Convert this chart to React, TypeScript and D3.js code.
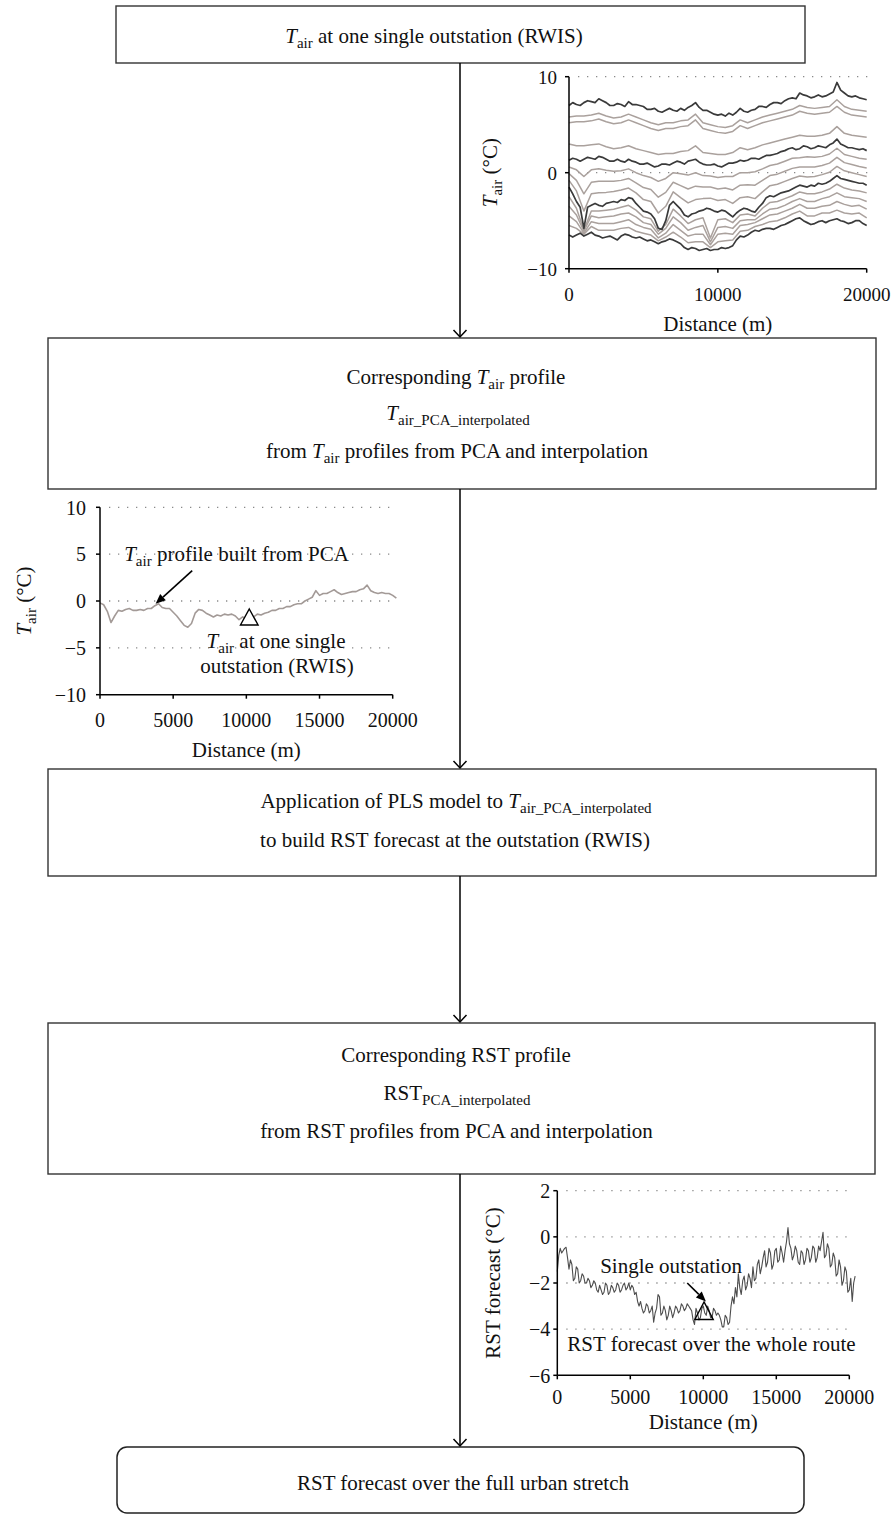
import React from "react";
import * as d3 from "d3";

const FONT = "'Liberation Serif','Times New Roman',serif";

// ---------- Top chart: T_air profiles (°C) over 0–20000 m ----------
const topDark1 = [7.0,7.3,7.1,7.0,7.3,7.5,7.4,7.3,7.7,7.5,7.3,7.0,7.0,7.2,7.1,6.9,7.4,7.1,7.1,7.0,6.9,6.6,6.6,6.7,6.4,6.3,6.5,6.7,6.5,6.4,6.7,6.5,6.8,7.0,7.3,6.8,6.5,6.5,6.3,6.1,6.0,6.1,5.9,6.2,6.0,6.3,6.7,6.4,6.3,6.5,6.6,6.9,6.9,6.8,7.1,7.3,7.3,7.2,7.5,7.7,7.8,7.7,8.3,8.1,8.0,7.8,7.9,8.1,7.9,8.0,8.2,8.4,9.4,8.6,8.3,8.0,7.9,8.0,7.8,7.7,7.6];
const topGray1 = [5.8,5.9,5.9,6.0,6.2,5.9,5.7,5.8,6.1,5.8,5.5,5.2,5.0,5.2,5.2,5.4,5.5,6.1,5.2,5.0,4.8,4.7,4.9,5.5,5.2,5.5,5.8,6.0,6.2,6.4,6.6,7.0,6.8,6.7,6.8,6.9,7.6,6.9,6.6,6.5,6.4];
const topGray2 = [5.2,5.3,5.3,5.4,5.6,5.3,5.1,5.2,5.5,5.2,4.9,4.6,4.4,4.6,4.6,4.8,4.9,5.5,4.6,4.4,4.2,4.1,4.3,4.9,4.6,4.9,5.2,5.4,5.6,5.8,6.0,6.4,6.2,6.1,6.2,6.3,6.9,6.3,6.0,5.9,5.8];
const topGray3 = [3.0,2.8,2.8,2.9,3.0,2.7,2.5,2.6,2.8,2.5,2.3,2.1,1.9,2.0,2.0,2.2,2.3,2.8,2.1,2.0,1.9,1.9,2.1,2.6,2.4,2.6,2.9,3.1,3.3,3.5,3.7,3.9,3.8,3.8,3.9,4.1,4.8,4.1,3.9,3.8,3.7];
const topDark2 = [1.3,1.5,1.4,1.2,1.4,1.6,1.5,1.4,1.7,1.6,1.4,1.2,1.2,1.4,1.2,1.1,1.4,1.2,1.1,0.9,0.9,1.0,0.8,0.6,0.7,0.9,0.9,0.8,1.0,1.2,1.1,0.9,1.2,1.3,1.4,1.1,0.9,0.8,0.8,0.9,0.7,0.6,0.8,1.0,1.0,1.1,1.3,1.2,1.3,1.5,1.5,1.4,1.6,1.8,1.8,1.9,2.0,2.2,2.3,2.5,2.6,2.4,2.5,2.8,2.7,2.5,2.6,2.8,2.7,2.6,2.9,3.1,3.5,3.0,2.8,2.6,2.6,2.5,2.4,2.5,2.3];
const topGray4 = [0.6,0.3,-0.4,0.3,0.4,0.25,0.15,0.2,0.4,0.0,-0.3,-0.5,-0.9,-0.6,0.0,-0.1,-0.25,0.0,-0.3,-0.35,-0.5,-0.4,-0.4,0.0,0.0,0.1,0.4,0.75,0.9,1.2,1.5,1.55,1.65,1.6,1.7,1.95,2.55,1.9,1.7,1.5,1.4];
const topGray5 = [-0.1,-0.8,-2.2,-1.0,-0.9,-0.9,-0.9,-0.8,-0.6,-1.05,-1.55,-1.75,-2.55,-2.05,-1.0,-1.35,-1.7,-1.4,-1.5,-1.5,-1.7,-1.6,-1.8,-1.3,-1.25,-1.3,-0.8,-0.3,-0.15,0.15,0.45,0.6,0.6,0.6,0.75,1.0,1.6,1.05,0.85,0.65,0.5];
const topGray6 = [-0.8,-1.9,-4.0,-2.2,-2.1,-2.05,-1.95,-1.8,-1.6,-2.1,-2.8,-3.0,-4.2,-3.5,-2.0,-2.6,-3.15,-2.8,-2.7,-2.65,-2.9,-2.8,-3.2,-2.6,-2.5,-2.7,-2.0,-1.35,-1.2,-0.9,-0.6,-0.35,-0.45,-0.4,-0.2,0.05,0.65,0.2,0.0,-0.2,-0.4];
const topDark3 = [-1.5,-2.2,-3.0,-3.6,-5.8,-3.6,-3.4,-3.2,-3.4,-3.5,-3.2,-3.1,-3.0,-3.1,-2.8,-2.9,-2.6,-2.7,-3.2,-3.6,-4.0,-4.1,-4.3,-4.8,-5.8,-5.9,-5.0,-3.4,-3.0,-3.4,-3.8,-4.4,-4.6,-4.3,-4.2,-4.0,-3.9,-3.7,-3.8,-4.0,-4.1,-3.9,-4.0,-4.3,-4.6,-4.2,-3.9,-3.7,-3.8,-4.0,-4.1,-3.6,-3.2,-2.6,-2.4,-2.5,-2.3,-2.1,-2.0,-1.9,-1.7,-1.5,-1.3,-1.4,-1.5,-1.3,-1.4,-1.1,-1.2,-1.1,-0.9,-0.6,-0.3,-0.6,-0.7,-0.8,-0.9,-1.0,-1.1,-1.1,-1.3];
const topGray7 = [-2.5,-3.7,-6.0,-4.0,-4.0,-3.9,-3.8,-3.6,-3.4,-3.9,-4.6,-4.8,-6.1,-5.4,-3.8,-4.5,-5.3,-4.9,-4.7,-6.8,-4.9,-4.8,-5.2,-4.4,-4.3,-4.5,-3.7,-3.1,-3.0,-2.7,-2.4,-2.0,-2.2,-2.2,-2.0,-1.7,-1.2,-1.6,-1.8,-1.9,-2.1];
const topGray8 = [-3.5,-4.4,-6.1,-4.5,-4.7,-4.6,-4.5,-4.3,-4.2,-4.6,-5.2,-5.4,-6.4,-5.8,-4.6,-5.2,-6.0,-5.7,-5.5,-7.2,-5.7,-5.6,-5.8,-5.0,-4.9,-4.9,-4.3,-3.8,-3.7,-3.4,-3.0,-2.7,-3.0,-3.0,-2.7,-2.5,-2.1,-2.5,-2.6,-2.7,-3.0];
const topGray9 = [-4.5,-5.1,-6.3,-5.1,-5.3,-5.3,-5.3,-5.1,-4.9,-5.4,-5.7,-5.9,-6.8,-6.3,-5.4,-6.0,-6.6,-6.4,-6.4,-7.5,-6.4,-6.3,-6.4,-5.5,-5.4,-5.2,-4.8,-4.4,-4.3,-4.0,-3.7,-3.3,-3.7,-3.7,-3.5,-3.4,-3.0,-3.3,-3.5,-3.4,-3.8];
const topGray10 = [-5.5,-5.8,-6.4,-5.6,-6.0,-6.0,-6.0,-5.8,-5.7,-6.1,-6.3,-6.5,-7.1,-6.7,-6.2,-6.7,-7.3,-7.2,-7.2,-7.8,-7.2,-7.1,-7.0,-6.1,-6.0,-5.6,-5.4,-5.1,-5.0,-4.7,-4.3,-4.0,-4.5,-4.5,-4.2,-4.2,-3.9,-4.2,-4.3,-4.2,-4.7];
const topDark4 = [-6.5,-6.7,-6.5,-6.3,-6.6,-6.4,-6.2,-6.5,-6.6,-6.8,-6.7,-6.6,-6.8,-7.0,-6.6,-6.4,-6.5,-6.7,-6.8,-6.7,-6.9,-7.1,-7.0,-7.2,-7.4,-7.2,-7.1,-6.9,-7.0,-7.2,-7.4,-7.8,-8.0,-7.8,-7.9,-8.1,-8.0,-7.9,-8.1,-8.0,-8.0,-7.8,-7.9,-7.8,-7.6,-7.0,-6.6,-6.7,-6.5,-6.2,-6.0,-6.1,-5.9,-5.8,-5.8,-5.9,-5.7,-5.5,-5.4,-5.2,-5.0,-4.8,-4.7,-5.0,-5.2,-5.4,-5.3,-5.1,-5.0,-5.2,-5.0,-4.9,-4.8,-5.0,-5.1,-5.3,-5.2,-5.0,-5.0,-5.3,-5.5];

const topGrayLines = [topGray1, topGray2, topGray3, topGray4, topGray5, topGray6, topGray7, topGray8, topGray9, topGray10];
const topDarkLines = [topDark1, topDark2, topDark3, topDark4];
const topMaxDist = 20000;

// ---------- Middle chart: T_air profile built from PCA, 0–20250 m ----------
const midTairPCA = [-0.2,-0.4,-1.1,-2.3,-1.6,-1.0,-1.1,-0.9,-0.8,-1.0,-1.0,-0.9,-1.0,-0.8,-0.8,-0.5,-0.3,-0.7,-0.8,-0.8,-1.2,-1.6,-2.1,-2.6,-2.8,-2.4,-1.3,-0.9,-1.0,-1.3,-1.5,-1.7,-1.5,-1.6,-1.4,-1.5,-1.4,-1.6,-2.0,-1.7,-1.9,-1.6,-1.7,-1.4,-1.5,-1.3,-1.2,-1.0,-1.0,-0.8,-0.8,-0.6,-0.6,-0.4,-0.3,-0.3,0.0,0.2,0.4,1.1,0.6,0.8,0.8,1.0,1.2,0.9,0.7,0.8,0.9,1.0,1.0,1.2,1.3,1.7,1.1,0.9,0.8,0.9,0.8,0.8,0.6,0.3];
const midMaxDist = 20250;
const midStation = { distance: 10200, apex: -0.85, base: -2.56 };

// ---------- Bottom chart: RST forecast, 0–20400 m ----------
const botRST = [-1.5,-0.8,-0.5,-0.7,-0.6,-0.5,-0.45,-0.9,-1.4,-1.0,-1.2,-1.9,-1.8,-1.3,-1.4,-2.0,-1.9,-1.6,-1.7,-2.0,-2.0,-1.8,-1.9,-2.2,-2.1,-1.9,-2.0,-2.3,-2.4,-2.1,-2.3,-2.5,-2.4,-2.0,-2.1,-2.5,-2.4,-2.1,-2.2,-2.4,-2.3,-2.0,-2.1,-2.4,-2.3,-2.1,-2.0,-2.3,-2.2,-2.0,-2.3,-2.1,-2.2,-2.5,-2.4,-2.8,-3.0,-2.8,-3.1,-3.3,-3.2,-2.9,-3.0,-3.3,-3.2,-3.0,-3.7,-3.3,-3.1,-2.5,-2.6,-3.4,-3.3,-3.0,-3.2,-3.6,-3.4,-3.0,-3.2,-3.5,-3.3,-3.0,-3.1,-3.3,-3.2,-2.9,-3.0,-3.2,-3.1,-2.9,-3.0,-3.1,-3.2,-3.6,-3.8,-3.1,-3.3,-3.6,-3.5,-3.1,-3.0,-3.3,-3.4,-3.0,-3.2,-3.5,-3.5,-3.1,-3.2,-3.4,-3.3,-3.4,-3.6,-3.9,-3.9,-3.4,-3.5,-3.8,-3.7,-3.0,-2.6,-2.9,-2.2,-2.6,-1.6,-2.2,-2.5,-1.9,-1.7,-2.3,-2.1,-1.6,-1.8,-2.2,-1.3,-1.9,-1.8,-1.2,-1.0,-1.6,-1.3,-0.9,-0.6,-1.3,-1.1,-0.5,-0.7,-1.4,-1.2,-0.6,-0.5,-1.1,-1.0,-0.4,-0.7,-1.1,-0.6,-0.2,0.4,-0.3,-0.5,-1.0,-0.8,-0.4,-0.6,-1.1,-1.2,-0.6,-0.7,-1.2,-1.0,-0.5,-0.6,-1.1,-0.9,-0.4,-0.5,-1.1,-0.9,-0.4,-0.6,-0.2,0.2,-0.9,-0.8,-0.3,-0.5,-1.3,-1.2,-0.7,-0.9,-1.7,-1.6,-1.0,-1.3,-2.1,-1.9,-1.3,-1.5,-2.4,-2.3,-1.8,-2.8,-2.0,-1.7];
const botMaxDist = 20400;
const botStation = { distance: 10050, apex: -2.82, base: -3.58 };

// ---------- ticks ----------
const topXTicks = [0, 10000, 20000];
const topYTicks = [-10, 0, 10];
const topGrid = [0, 10];
const midXTicks = [0, 5000, 10000, 15000, 20000];
const midYTicks = [-10, -5, 0, 5, 10];
const midGrid = [-5, 0, 5, 10];
const botXTicks = [0, 5000, 10000, 15000, 20000];
const botYTicks = [-6, -4, -2, 0, 2];
const botGrid = [-4, -2, 0, 2];

const fmt = (v: number) => (v < 0 ? "\u2212" + Math.abs(v) : String(v));

const BOX = "#333";

function Chart(p: any) {
  const [xa, xb] = p.x.range();
  const [yb, ya] = p.y.range();
  return (
    <g>
      {p.grid.map((v: number) => (
        <line key={"g" + v} x1={xa + 9} x2={xb + 2} y1={p.y(v)} y2={p.y(v)} stroke="#8a8a8a" strokeWidth={1.3} strokeDasharray="1.3 7.7" />
      ))}
      {p.children}
      <line x1={xa} x2={xa} y1={ya} y2={yb} stroke="#000" strokeWidth={1.5} />
      <line x1={xa} x2={xb} y1={yb} y2={yb} stroke="#000" strokeWidth={1.5} />
      {p.yTicks.map((v: number) => (
        <g key={"y" + v}>
          <line x1={xa - 4} x2={xa} y1={p.y(v)} y2={p.y(v)} stroke="#000" strokeWidth={1.5} />
          <text x={xa - p.yLabelGap} y={p.y(v)} dy="0.36em" textAnchor="end" fontSize={p.tickFont}>{fmt(v)}</text>
        </g>
      ))}
      {p.xTicks.map((v: number) => (
        <g key={"x" + v}>
          <line x1={p.x(v)} x2={p.x(v)} y1={yb} y2={yb + 4} stroke="#000" strokeWidth={1.5} />
          <text x={p.x(v)} y={p.xLabelBaseline} textAnchor="middle" fontSize={p.tickFont}>{fmt(v)}</text>
        </g>
      ))}
      <text x={(xa + xb) / 2} y={p.xTitleBaseline} textAnchor="middle" fontSize={21}>Distance (m)</text>
      <text transform={`translate(${p.yTitleX},${(ya + yb) / 2}) rotate(-90)`} textAnchor="middle" fontSize={21}>{p.yTitle}</text>
    </g>
  );
}

function Arrow({ x1, y1, x2, y2 }: any) {
  const a = Math.atan2(y2 - y1, x2 - x1);
  const L = 10, Wd = 4.2;
  const bx = x2 - L * Math.cos(a), by = y2 - L * Math.sin(a);
  const px = -Math.sin(a) * Wd, py = Math.cos(a) * Wd;
  return (
    <g>
      <line x1={x1} y1={y1} x2={bx} y2={by} stroke="#000" strokeWidth={1.6} />
      <path d={`M${x2},${y2}L${bx + px},${by + py}L${bx - px},${by - py}Z`} fill="#000" />
    </g>
  );
}

function FlowArrow({ x, y1, y2 }: any) {
  return (
    <g stroke="#000" strokeWidth={1.5} fill="none">
      <line x1={x} x2={x} y1={y1} y2={y2} />
      <path d={`M${x - 6.5},${y2 - 7}L${x},${y2}L${x + 6.5},${y2 - 7}`} />
    </g>
  );
}

const tAir = (size = 15) => [
  <tspan key="t" fontStyle="italic">T</tspan>,
  <tspan key="s" fontSize={size} dy={5}>air</tspan>,
];

function seriesLine(x: any, y: any, maxDist: number) {
  return (vals: number[]) =>
    d3.line<number>().x((_, i) => x((i * maxDist) / (vals.length - 1))).y((v) => y(v))(vals) || "";
}

export default function App() {
  // scales
  const tx = d3.scaleLinear().domain([0, 20000]).range([569, 866.7]);
  const ty = d3.scaleLinear().domain([-10, 10]).range([268.7, 76.7]);
  const mx = d3.scaleLinear().domain([0, 20000]).range([100, 392.7]);
  const my = d3.scaleLinear().domain([-10, 10]).range([694.7, 507.3]);
  const bx = d3.scaleLinear().domain([0, 20000]).range([557.3, 849.3]);
  const by = d3.scaleLinear().domain([-6, 2]).range([1375.3, 1190.7]);

  const topLine = seriesLine(tx, ty, topMaxDist);
  const midLine = seriesLine(mx, my, midMaxDist);
  const botLine = seriesLine(bx, by, botMaxDist);

  const cx = 460;

  const mTx = mx(midStation.distance), mTa = my(midStation.apex), mTb = my(midStation.base);
  const bTx = bx(botStation.distance), bTa = by(botStation.apex), bTb = by(botStation.base);

  return (
    <svg width={893} height={1514} style={{ position: "absolute", left: 0, top: 0, background: "#fff" }} fontFamily={FONT} fill="#111">
      {/* Boxes */}
      <rect x={116} y={6} width={689} height={57} fill="none" stroke={BOX} strokeWidth={1.4} />
      <rect x={48} y={338} width={828} height={151} fill="none" stroke={BOX} strokeWidth={1.4} />
      <rect x={48} y={769} width={828} height={107} fill="none" stroke={BOX} strokeWidth={1.4} />
      <rect x={48} y={1023} width={827} height={151} fill="none" stroke={BOX} strokeWidth={1.4} />
      <rect x={117} y={1447} width={687} height={66} rx={10} ry={10} fill="none" stroke="#222" strokeWidth={1.5} />

      {/* Flow arrows */}
      <FlowArrow x={cx} y1={63} y2={337} />
      <FlowArrow x={cx} y1={489} y2={768} />
      <FlowArrow x={cx} y1={876} y2={1022} />
      <FlowArrow x={cx} y1={1174} y2={1446} />

      {/* Box texts */}
      <g fontSize={21} textAnchor="middle">
        <text x={434} y={43}>{tAir()}<tspan dy={-5}> at one single outstation (RWIS)</tspan></text>

        <text x={456} y={383.5}>Corresponding {tAir()}<tspan dy={-5}> profile</tspan></text>
        <text x={458} y={420}><tspan fontStyle="italic">T</tspan><tspan fontSize={15} dy={5}>air_PCA_interpolated</tspan></text>
        <text x={457} y={458}>from {tAir()}<tspan dy={-5}> profiles from PCA and interpolation</tspan></text>

        <text x={456} y={808}>Application of PLS model to <tspan fontStyle="italic">T</tspan><tspan fontSize={15} dy={5}>air_PCA_interpolated</tspan></text>
        <text x={455} y={847}>to build RST forecast at the outstation (RWIS)</text>

        <text x={456} y={1061.5}>Corresponding RST profile</text>
        <text x={457} y={1100}>RST<tspan fontSize={15} dy={5}>PCA_interpolated</tspan></text>
        <text x={456.5} y={1138}>from RST profiles from PCA and interpolation</text>

        <text x={463} y={1490}>RST forecast over the full urban stretch</text>
      </g>

      {/* Top chart */}
      <Chart x={tx} y={ty} xTicks={topXTicks} yTicks={topYTicks} grid={topGrid} yLabelGap={12} tickFont={19}
        xLabelBaseline={301} xTitleBaseline={331} yTitleX={497}
        yTitle={[...tAir(15), <tspan key="u" dy={-5}> (°C)</tspan>]}>
        {topGrayLines.map((vals, i) => (
          <path key={"tg" + i} d={topLine(vals)} fill="none" stroke="#aaa19d" strokeWidth={1.5} strokeLinejoin="round" />
        ))}
        {topDarkLines.map((vals, i) => (
          <path key={"td" + i} d={topLine(vals)} fill="none" stroke="#3a3a3a" strokeWidth={1.7} strokeLinejoin="round" />
        ))}
      </Chart>

      {/* Middle chart */}
      <Chart x={mx} y={my} xTicks={midXTicks} yTicks={midYTicks} grid={midGrid} yLabelGap={14} tickFont={20}
        xLabelBaseline={727} xTitleBaseline={757} yTitleX={31}
        yTitle={[...tAir(15), <tspan key="u" dy={-5}> (°C)</tspan>]}>
        <path d={midLine(midTairPCA)} fill="none" stroke="#a39a97" strokeWidth={1.6} strokeLinejoin="round" />
        <path d={`M${mTx},${mTa}L${mTx + 8.8},${mTb}L${mTx - 8.8},${mTb}Z`} fill="#fff" stroke="#000" strokeWidth={1.4} />
      </Chart>
      <g fontSize={21} textAnchor="middle">
        <text x={236.5} y={561}>{tAir()}<tspan dy={-5}> profile built from PCA</tspan></text>
        <text x={276} y={648}>{tAir()}<tspan dy={-5}> at one single</tspan></text>
        <text x={277} y={673}>outstation (RWIS)</text>
      </g>
      <Arrow x1={mx(6300)} y1={my(3.25)} x2={mx(3800)} y2={my(-0.3)} />

      {/* Bottom chart */}
      <Chart x={bx} y={by} xTicks={botXTicks} yTicks={botYTicks} grid={botGrid} yLabelGap={7} tickFont={20}
        xLabelBaseline={1404} xTitleBaseline={1429} yTitleX={500}
        yTitle={<tspan>RST forecast (°C)</tspan>}>
        <path d={botLine(botRST)} fill="none" stroke="#4d4d4d" strokeWidth={1.1} strokeLinejoin="round" />
        <path d={`M${bTx},${bTa}L${bTx + 9.2},${bTb}L${bTx - 9.2},${bTb}Z`} fill="none" stroke="#000" strokeWidth={1.4} />
      </Chart>
      <g fontSize={21} textAnchor="middle">
        <text x={671} y={1273}>Single outstation</text>
        <text x={711.5} y={1351}>RST forecast over the whole route</text>
      </g>
      <Arrow x1={bx(8900)} y1={by(-2.0)} x2={bx(10180)} y2={by(-2.8)} />
    </svg>
  );
}
